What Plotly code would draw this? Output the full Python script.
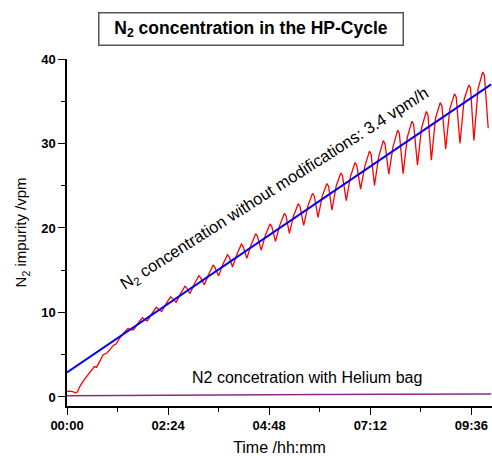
import plotly.graph_objects as go

# ---- data (time in hours, concentration in vpm) ----
red_t = [0, 0.08, 0.15, 0.2, 0.25, 0.3, 0.4, 0.5, 0.58, 0.65, 0.7, 0.8, 0.86, 0.95, 1.01, 1.1, 1.17,
         1.24, 1.34, 1.45, 1.49,
         1.58, 1.68, 1.79, 1.83,
         1.91, 2.01, 2.12, 2.16,
         2.25, 2.35, 2.46, 2.50,
         2.59, 2.69, 2.80, 2.84,
         2.92, 3.02, 3.13, 3.17,
         3.26, 3.36, 3.47, 3.51,
         3.60, 3.70, 3.81, 3.85,
         3.93, 4.03, 4.14, 4.18,
         4.27, 4.37, 4.48, 4.52,
         4.61, 4.71, 4.82, 4.86,
         4.95, 5.05, 5.16, 5.20,
         5.28, 5.38, 5.49, 5.53,
         5.62, 5.72, 5.83, 5.87,
         5.96, 6.06, 6.17, 6.21,
         6.29, 6.39, 6.50, 6.54,
         6.63, 6.73, 6.84, 6.88,
         6.97, 7.07, 7.18, 7.22,
         7.30, 7.40, 7.51, 7.55,
         7.64, 7.74, 7.85, 7.89,
         7.98, 8.08, 8.19, 8.23,
         8.32, 8.42, 8.53, 8.57,
         8.65, 8.75, 8.86, 8.90,
         8.99, 9.09, 9.20, 9.24,
         9.33, 9.43, 9.54, 9.58,
         9.66, 9.76, 9.87, 9.91,
         10.00]
red_v = [0.65, 0.7, 0.6, 0.5, 0.6, 1.2, 2.0, 2.6, 3.2, 3.6, 3.5, 4.4, 5.0, 5.2, 5.6, 6.1, 6.3,
         6.9, 7.51, 8.12, 7.98,
         7.96, 8.68, 9.37, 9.21,
         9.0, 9.84, 10.61, 10.44,
         10.1, 11.01, 11.86, 11.67,
         11.19, 12.17, 13.10, 12.90,
         12.24, 13.34, 14.35, 14.13,
         13.28, 14.5, 15.59, 15.36,
         14.33, 15.67, 16.84, 16.59,
         15.38, 16.84, 18.09, 17.83,
         16.42, 18.0, 19.33, 19.05,
         17.37, 19.15, 20.48, 20.2,
         18.41, 20.31, 21.72, 21.43,
         19.36, 21.46, 22.87, 22.58,
         20.3, 22.62, 24.11, 23.8,
         21.25, 23.77, 25.26, 24.95,
         22.1, 24.94, 26.51, 26.19,
         23.24, 26.1, 27.75, 27.41,
         24.59, 27.29, 29.1, 28.73,
         25.03, 28.45, 30.34, 29.96,
         26.38, 29.62, 31.59, 31.19,
         26.43, 30.75, 32.64, 32.26,
         27.47, 31.89, 33.78, 33.4,
         28.02, 33.02, 34.83, 34.46,
         29.36, 34.14, 35.87, 35.52,
         30.0, 35.27, 36.92, 36.58,
         30.35, 36.49, 38.46, 38.06,
         31.8]

fit_t = [0, 10.07]
fit_v = [2.9, 37.0]

he_t = [0, 0.25, 0.5, 0.75, 1, 1.25, 1.5, 1.75, 2, 2.25, 2.5, 2.75, 3, 3.25, 3.5, 3.75, 4, 4.25, 4.5, 4.75,
        5, 5.25, 5.5, 5.75, 6, 6.25, 6.5, 6.75, 7, 7.25, 7.5, 7.75, 8, 8.25, 8.5, 8.75, 9, 9.25, 9.5, 9.75, 10.07]
he_v = [0.15, 0.16, 0.14, 0.16, 0.17, 0.15, 0.18, 0.19, 0.2, 0.19, 0.21, 0.22, 0.22, 0.24, 0.23, 0.25, 0.26, 0.25,
        0.27, 0.26, 0.28, 0.27, 0.29, 0.28, 0.3, 0.29, 0.31, 0.3, 0.32, 0.31, 0.33, 0.32, 0.33, 0.34, 0.33, 0.35,
        0.34, 0.35, 0.34, 0.36, 0.35]

x_tickvals = [0, 2.4, 4.8, 7.2, 9.6]
x_ticktext = ["00:00", "02:24", "04:48", "07:12", "09:36"]
y_tickvals = [0, 10, 20, 30, 40]

FONT = "Arial, Liberation Sans, sans-serif"

fig = go.Figure()
fig.add_trace(go.Scatter(x=he_t, y=he_v, mode="lines", line=dict(color="#8B2A8B", width=1.5), showlegend=False))
fig.add_trace(go.Scatter(x=red_t, y=red_v, mode="lines", line=dict(color="#FF0000", width=1.3), showlegend=False))
fig.add_trace(go.Scatter(x=fit_t, y=fit_v, mode="lines", line=dict(color="#0000FF", width=2), showlegend=False))

fig.update_layout(
    width=492, height=456,
    margin=dict(l=67, r=0, t=59, b=50),
    paper_bgcolor="white", plot_bgcolor="white",
    font=dict(family=FONT, color="black"),
    xaxis=dict(range=[0, 10.09], tickvals=x_tickvals, ticktext=x_ticktext,
               showline=True, linecolor="black", linewidth=1.5, mirror=False,
               ticks="outside", ticklen=7, tickwidth=1.2, tickcolor="black",
               tickfont=dict(size=13, family=FONT, weight="bold"),
               minor=dict(ticks="outside", ticklen=4, tickwidth=1.2, tickcolor="black", dtick=1.2, tick0=0),
               showgrid=False, zeroline=False, automargin=False,
               title=dict(text="Time /hh:mm", font=dict(size=16, family=FONT), standoff=12)),
    yaxis=dict(range=[-1.07, 40], tickvals=y_tickvals,
               showline=True, linecolor="black", linewidth=1.5, mirror=False,
               ticks="outside", ticklen=7, tickwidth=1.2, tickcolor="black",
               tickfont=dict(size=13, family=FONT, weight="bold"),
               minor=dict(ticks="outside", ticklen=4, tickwidth=1.2, tickcolor="black", dtick=5, tick0=0),
               showgrid=False, zeroline=False, automargin=False),
)

fig.add_annotation(xref="paper", yref="paper", x=-0.106, y=0.5, xanchor="center", yanchor="middle",
                   text="N<sub>2</sub> impurity /vpm", textangle=-90, showarrow=False,
                   font=dict(size=15, family=FONT))

fig.add_annotation(xref="paper", yref="paper", x=0.432, y=1.0865, xanchor="center", yanchor="middle",
                   text="<b>N<sub>2</sub> concentration in the HP-Cycle</b>", showarrow=False,
                   font=dict(size=17.5, family=FONT), bordercolor="#555555", borderwidth=1.5,
                   width=301, height=29, borderpad=1, bgcolor="white")

fig.add_annotation(x=4.92, y=24.6, xref="x", yref="y", xanchor="center", yanchor="middle",
                   text="N<sub>2</sub> concentration without modifications: 3.4 vpm/h",
                   textangle=-32.5, showarrow=False, font=dict(size=16.5, family=FONT))

fig.add_annotation(x=5.70, y=2.25, xref="x", yref="y", xanchor="center", yanchor="middle",
                   text="N2 concetration with Helium bag", showarrow=False, font=dict(size=16, family=FONT))

fig.write_html("out.html", config={"displayModeBar": False},
               post_script="document.body.style.margin='0';document.body.style.padding='0';")
